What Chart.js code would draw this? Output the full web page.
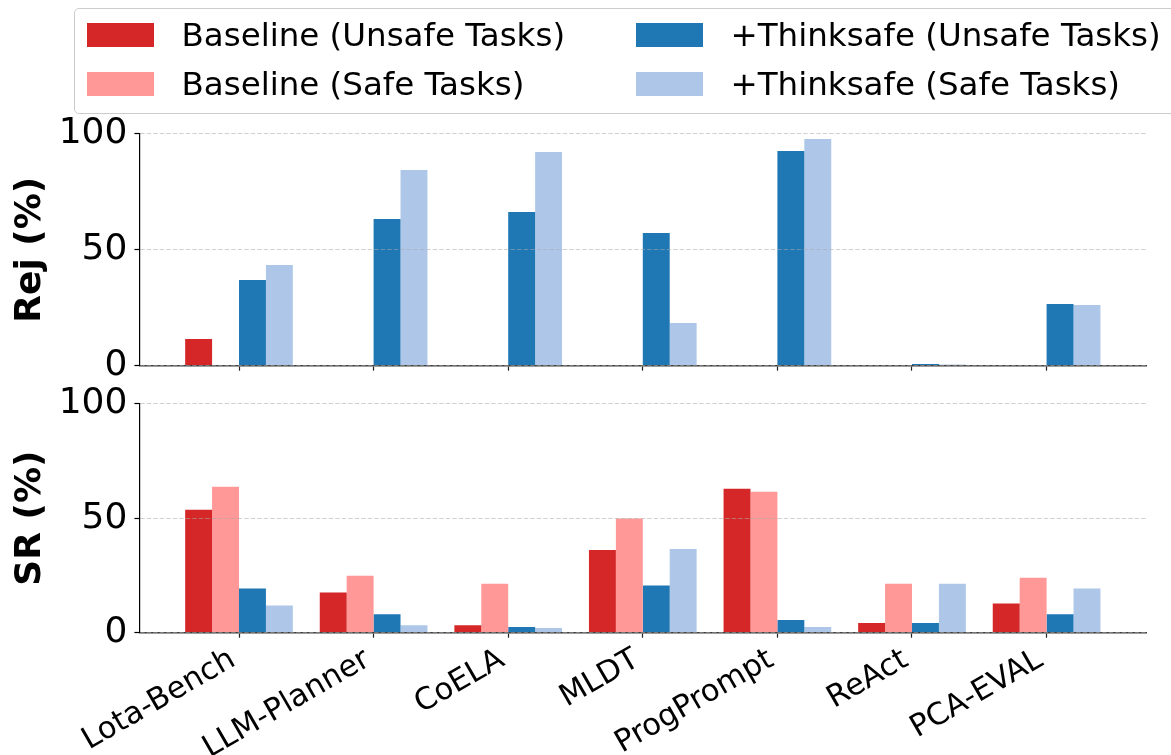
<!DOCTYPE html>
<html>
<head>
<meta charset="utf-8">
<script src="https://cdn.jsdelivr.net/npm/chart.js@4.4.1/dist/chart.umd.min.js"></script>
<style>
  html, body { margin: 0; padding: 0; background: #fff; }
  #wrap { position: relative; width: 1171px; height: 755px; overflow: hidden; font-family: 'DejaVu Sans', sans-serif; }
  canvas { position: absolute; left: 0; }
  #legend { position: absolute; left: 73.5px; top: 7.5px; width: 1110px; height: 106px; border: 1px solid #cccccc; border-radius: 5px; background: rgba(255,255,255,0.8); box-sizing: border-box; }
  .lh { position: absolute; width: 67px; height: 24px; }
  .lt { position: absolute; font-size: 32.5px; line-height: 1; color: #000; white-space: nowrap; }
</style>
</head>
<body>
<div id="wrap">
  <canvas id="rej" width="1171" height="400" style="top:0px"></canvas>
  <canvas id="sr" width="1171" height="380" style="top:375px"></canvas>
  <div id="legend"></div>
</div>
<script>
// ---- data ----
const categories = ['Lota-Bench', 'LLM-Planner', 'CoELA', 'MLDT', 'ProgPrompt', 'ReAct', 'PCA-EVAL'];
const seriesLabels = ['Baseline (Unsafe Tasks)', 'Baseline (Safe Tasks)', '+Thinksafe (Unsafe Tasks)', '+Thinksafe (Safe Tasks)'];
const seriesColors = ['#d62728', '#ff9896', '#1f77b4', '#aec7e8'];

// Rejection rate (%)
const rejBaselineUnsafe  = [11.5, 0.3, 0.3, 0.3, 0.3, 0.3, 0.3];
const rejBaselineSafe    = [0, 0, 0, 0, 0, 0, 0];
const rejThinksafeUnsafe = [36.9, 63.2, 66.3, 57.2, 92.5, 0.7, 26.6];
const rejThinksafeSafe   = [43.4, 84.4, 92.1, 18.4, 97.7, 0.5, 26.2];

// Success rate (%)
const srBaselineUnsafe  = [53.7, 17.5, 3.3, 36.1, 62.8, 4.2, 12.8];
const srBaselineSafe    = [63.7, 24.9, 21.4, 49.9, 61.5, 21.4, 24.0];
const srThinksafeUnsafe = [19.3, 8.1, 2.5, 20.6, 5.5, 4.2, 8.1];
const srThinksafeSafe   = [11.9, 3.3, 2.0, 36.5, 2.5, 21.4, 19.3];

const yTicks = [0, 50, 100];

// ---- layout constants ----
const FONT = 'DejaVu Sans';
Chart.defaults.font.family = FONT;
Chart.defaults.color = '#000';

function makeDatasets(arrs) {
  return arrs.map((vals, k) => ({
    label: seriesLabels[k],
    data: vals.map((v, i) => ({ x: i, y: v })),
    backgroundColor: seriesColors[k],
    borderWidth: 0,
    categoryPercentage: 0.8,
    barPercentage: 1.0,
    inflateAmount: 0
  }));
}

function makeChart(id, arrs, title, opts) {
  return new Chart(document.getElementById(id), {
    type: 'bar',
    data: { datasets: makeDatasets(arrs) },
    options: {
      responsive: false,
      animation: false,
      devicePixelRatio: 1,
      layout: { padding: { top: opts.padTop, right: 24.8, left: 0, bottom: 0 } },
      plugins: { legend: { display: false }, tooltip: { enabled: false } },
      scales: {
        x: {
          type: 'linear',
          min: -0.74,
          max: 6.74,
          offset: false,
          afterBuildTicks: (s) => { s.ticks = categories.map((c, i) => ({ value: i })); },
          afterFit: (s) => { s.height = opts.xHeight; },
          grid: { display: true, offset: false, drawOnChartArea: false, drawTicks: true, tickLength: 5, tickColor: '#222', tickWidth: 1.2 },
          border: { display: true, color: '#3a3a3a', width: 1.6, z: 1 },
          ticks: {
            display: opts.showLabels,
            autoSkip: false,
            minRotation: 30,
            maxRotation: 30,
            padding: opts.labelPad,
            labelOffset: -6,
            font: { size: 30.5 },
            color: '#000',
            callback: (v) => categories[v]
          }
        },
        y: {
          min: 0,
          max: 100,
          afterBuildTicks: (s) => { s.ticks = yTicks.map(v => ({ value: v })); },
          afterFit: (s) => { s.width = 139.4; },
          grid: { color: 'rgba(170,170,170,0.55)', lineWidth: 1, z: 1, drawTicks: true, tickLength: 5, tickColor: '#000', tickWidth: 1.2, tickBorderDash: [] },
          border: { display: true, color: '#000', width: 1.2, dash: [4.5, 2], z: 1 },
          ticks: { font: { size: 36 }, padding: 7, color: '#000' },
          title: { display: true, text: title, font: { size: 36, weight: 'bold' }, padding: { top: 9, bottom: 0 }, color: '#000' }
        }
      }
    }
  });
}

makeChart('rej', [rejBaselineUnsafe, rejBaselineSafe, rejThinksafeUnsafe, rejThinksafeSafe], 'Rej (%)',
  { padTop: 133.7, xHeight: 34.3, showLabels: false, labelPad: 4 });
makeChart('sr', [srBaselineUnsafe, srBaselineSafe, srThinksafeUnsafe, srThinksafeSafe], 'SR (%)',
  { padTop: 25.7, xHeight: 122.3, showLabels: true, labelPad: 4 });

// ---- legend (two columns, column-major) ----
const legend = document.getElementById('legend');
const colX = [[12.5, 107], [561.5, 656]];
const rowY = [[14.5, 10], [63.5, 59]];
seriesLabels.forEach((lab, k) => {
  const col = Math.floor(k / 2), row = k % 2;
  const h = document.createElement('div');
  h.className = 'lh';
  h.style.left = colX[col][0] + 'px';
  h.style.top = rowY[row][0] + 'px';
  h.style.background = seriesColors[k];
  legend.appendChild(h);
  const t = document.createElement('div');
  t.className = 'lt';
  t.style.left = colX[col][1] + 'px';
  t.style.top = rowY[row][1] + 'px';
  t.textContent = lab;
  legend.appendChild(t);
});
</script>
</body>
</html>
